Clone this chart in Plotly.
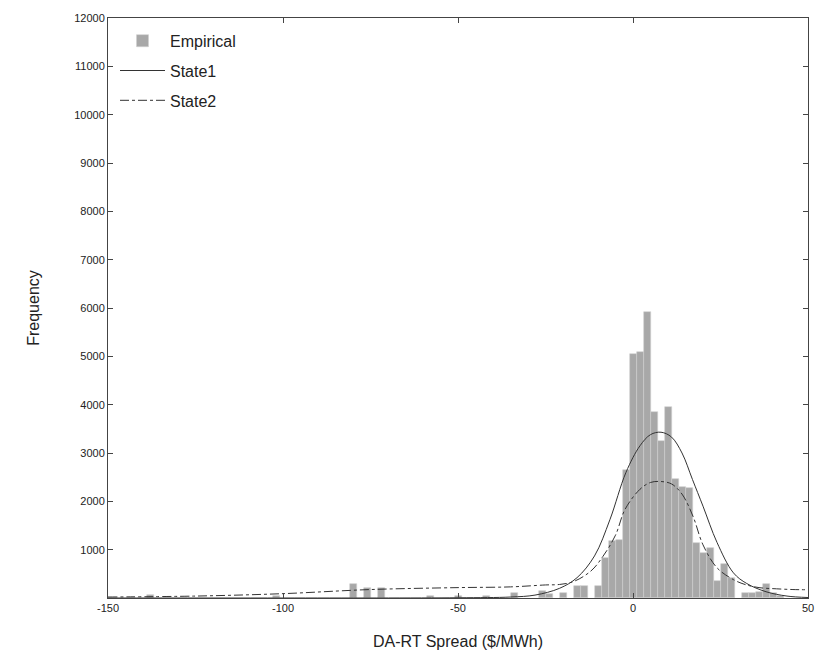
import plotly.graph_objects as go

# Histogram (bin centres, $/MWh) and frequencies
bin_centers = [-138, -102, -80, -76, -72, -58, -50, -42, -34, -26, -24, -20,
               -16, -14, -10, -8, -6, -4, -2, 0, 2, 4, 6, 8, 10, 12, 14, 16,
               18, 20, 22, 24, 26, 28, 32, 34, 36, 38, 40, 42]
freq = [60, 40, 280, 200, 200, 50, 40, 40, 100, 150, 80, 100,
        250, 250, 250, 830, 1180, 1200, 2650, 5050, 5100, 5910, 3850, 3240, 3950, 2460, 2300, 2280,
        1140, 940, 1040, 345, 700, 420, 100, 100, 120, 280, 100, 40]

# State 1 fitted density (scaled)
s1_x = [-150, -100, -50, -35, -28, -21, -16, -11, -6.6, -2, 2, 5, 8, 11, 14, 17, 20, 24, 28.7, 32.5, 38, 44, 50]
s1_y = [0, 0, 5, 20, 60, 200, 420, 870, 1620, 2600, 3150, 3380, 3430, 3330, 3000, 2450, 1900, 1150, 520, 300, 130, 40, 10]

# State 2 fitted density (scaled)
s2_x = [-150, -125, -100, -75, -50, -35, -25, -21, -17, -12, -8.6, -5, -2.3, 2, 5, 8, 11, 14, 17.2, 20, 24, 28.7, 32, 36, 41, 45.7, 50]
s2_y = [20, 40, 90, 175, 215, 230, 270, 280, 340, 560, 860, 1300, 1830, 2250, 2390, 2410, 2360, 2150, 1680, 1100, 625, 380, 280, 215, 190, 175, 170]

x_ticks = [-150, -100, -50, 0, 50]
x_labels = ["-150", "-100", "-50", "0", "50"]
y_ticks = [1000, 2000, 3000, 4000, 5000, 6000, 7000, 8000, 9000, 10000, 11000, 12000]
y_labels = [str(v) for v in y_ticks]

fig = go.Figure()
fig.add_trace(go.Bar(x=bin_centers, y=freq, width=2, name="Empirical", legendgroup="a",
                     marker=dict(color="#a8a8a8", line=dict(color="#d0d0d0", width=0.6))))
fig.add_trace(go.Scatter(x=s1_x, y=s1_y, mode="lines", name="State1", legendgroup="b",
                         line=dict(color="#333333", width=1, shape="spline")))
fig.add_trace(go.Scatter(x=s2_x, y=s2_y, mode="lines", name="State2", legendgroup="c",
                         line=dict(color="#333333", width=1, dash="dashdot", shape="spline")))

axis_font = dict(family="Liberation Sans, Arial, sans-serif", size=11, color="#222")
fig.update_layout(
    width=825, height=654,
    margin=dict(l=108, r=17, t=18, b=56),
    paper_bgcolor="white", plot_bgcolor="white",
    bargap=0,
    font=dict(family="Liberation Sans, Arial, sans-serif", color="#222"),
    showlegend=True,
    legend=dict(x=0.01, y=0.99, xanchor="left", yanchor="top",
                bgcolor="rgba(255,255,255,0)", borderwidth=0, traceorder="grouped",
                font=dict(size=16, color="#222"), itemwidth=45, tracegroupgap=6),
    xaxis=dict(range=[-150, 50], tickvals=x_ticks, ticktext=x_labels, ticks="inside", ticklen=5,
               showline=True, linecolor="#444", linewidth=1, mirror="ticks", automargin=False,
               showgrid=False, zeroline=False, tickfont=axis_font,
               title=dict(text="DA-RT Spread ($/MWh)", font=dict(size=16), standoff=22)),
    yaxis=dict(range=[0, 12000], tickvals=y_ticks, ticktext=y_labels, ticks="inside", ticklen=5,
               showline=True, linecolor="#444", linewidth=1, mirror="ticks", automargin=False,
               showgrid=False, zeroline=False, tickfont=axis_font,
               title=dict(text="Frequency", font=dict(size=16), standoff=30)),
)

fig.write_html("out.html")
